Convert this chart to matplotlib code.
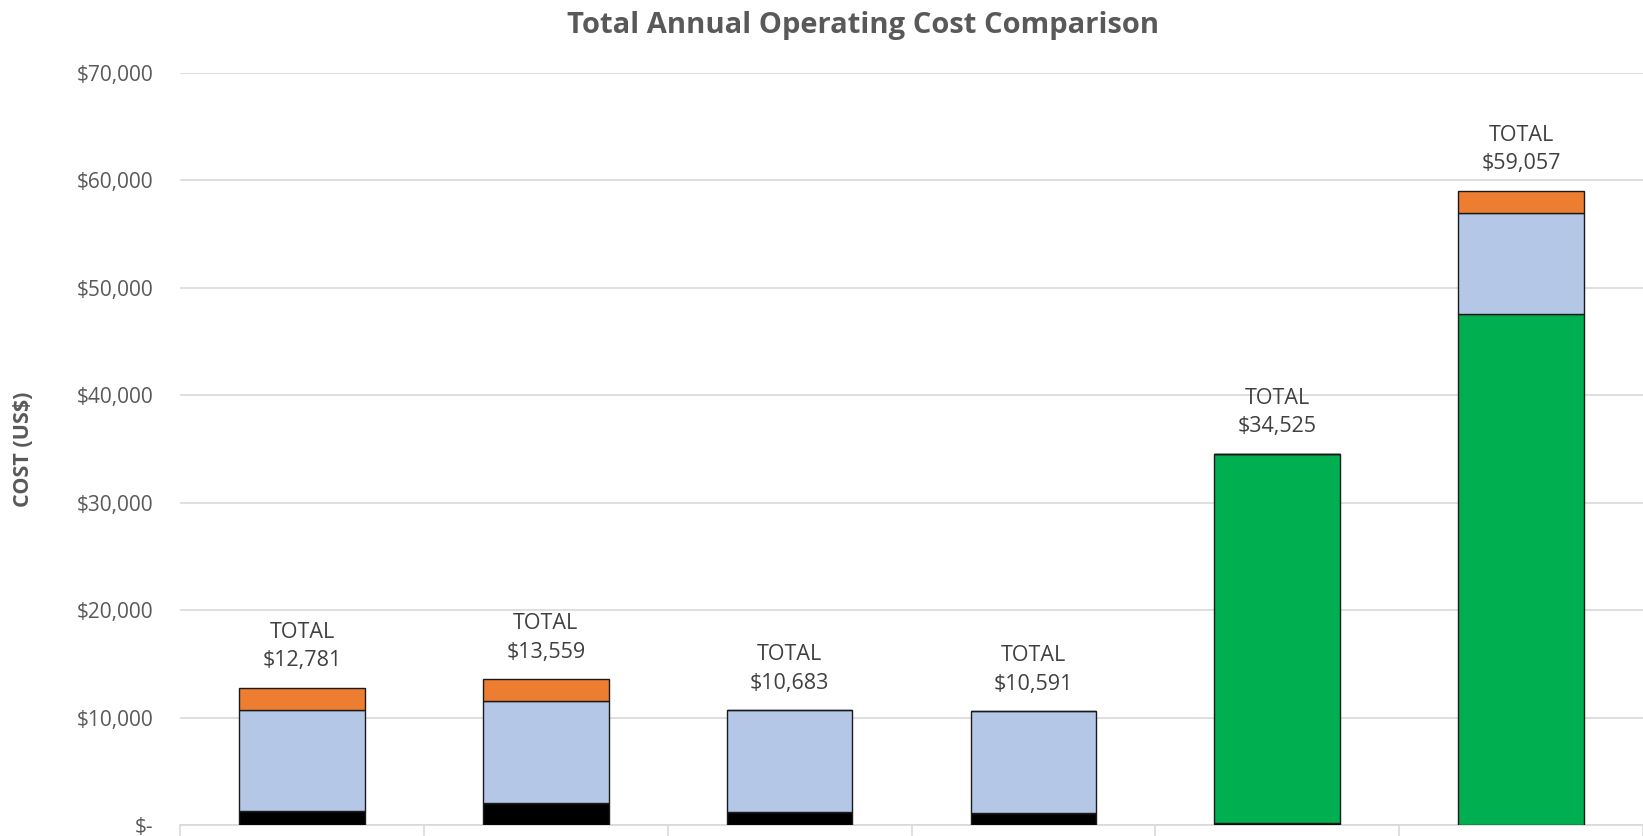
import numpy as np
import matplotlib.pyplot as plt
from matplotlib.ticker import FuncFormatter

plt.rcParams['font.family'] = ['Open Sans', 'DejaVu Sans']

# stacked annual cost components (US$)
systems = ['SWMS 1', 'SWMS 2', 'SWMS 3', 'SWMS 4', 'SWMS 5', 'SWMS 6']
cost_base = [1261, 2039, 1173, 1071, 200, 0]
cost_green = [0, 0, 0, 0, 34325, 47540]
cost_blue = [9460, 9460, 9510, 9520, 0, 9460]
cost_orange = [2060, 2060, 0, 0, 0, 2057]

layers = [
    (cost_base, '#000000'),
    (cost_green, '#00B050'),
    (cost_blue, '#B4C7E7'),
    (cost_orange, '#ED7D31'),
]

fig = plt.figure(figsize=(16.43, 8.36), dpi=100)
ax = fig.add_axes([0.1096, 0.0132, 0.8904, 0.8995])

x = np.arange(len(systems))
bottom = np.zeros(len(systems))
for vals, color in layers:
    vals = np.array(vals, dtype=float)
    ax.bar(x, vals, width=0.515, bottom=bottom, color=color,
           edgecolor='#1a1a1a', linewidth=1.0, zorder=3)
    bottom += vals

totals = bottom
for xi, t in zip(x, totals):
    ax.annotate(f'TOTAL\n${t:,.0f}', (xi, t), xytext=(0, 12),
                textcoords='offset points', ha='center', va='bottom',
                fontsize=15.5, color='#404040', linespacing=1.45)

ax.set_xlim(-0.5, len(systems) - 0.5)
ax.set_ylim(0, 70000)
ax.set_yticks(np.arange(0, 70001, 10000))
ax.yaxis.set_major_formatter(FuncFormatter(
    lambda v, p: '$-' if v == 0 else f'${v:,.0f}'))
ax.tick_params(axis='y', length=0, pad=19, labelsize=15, labelcolor='#595959')

ax.set_xticks(x)
ax.set_xticklabels(systems, fontsize=15, color='#595959')
ax.set_xticks(np.arange(-0.5, len(systems)), minor=True)
ax.tick_params(axis='x', which='major', length=0, pad=10)
ax.tick_params(axis='x', which='minor', length=12, color='#D9D9D9', width=1.2)

ax.grid(axis='y', color='#D9D9D9', linewidth=1.2, zorder=0)
for side in ['top', 'right', 'left']:
    ax.spines[side].set_visible(False)
ax.spines['bottom'].set_color('#D9D9D9')
ax.spines['bottom'].set_linewidth(1.2)

ax.set_ylabel('COST (US$)', fontsize=15.5, fontweight='bold', color='#595959')
ax.yaxis.set_label_coords(-0.1, 0.5)

fig.suptitle('Total Annual Operating Cost Comparison', x=0.5255, y=0.987,
             fontsize=21, fontweight='bold', color='#595959')

fig.savefig('out.png', dpi=100)
